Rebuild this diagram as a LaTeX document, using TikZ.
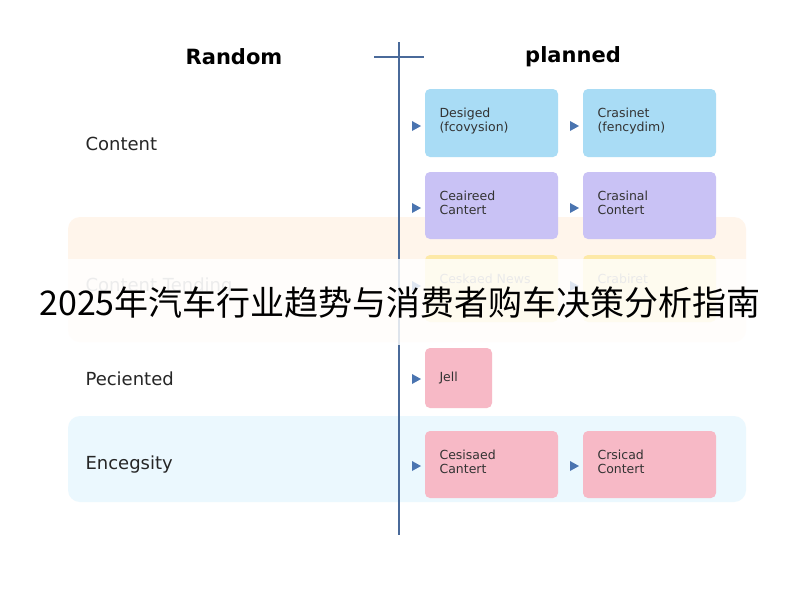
\documentclass[tikz,border=0pt]{standalone}
\usepackage{fontspec}
\setmainfont{DejaVu Sans}
\newfontfamily\cjk{Noto Sans CJK SC}
\begin{document}
\begin{tikzpicture}[x=1pt,y=-1pt,
  box/.style={rounded corners=5pt,draw=none},
  btxt/.style={anchor=west,font=\fontsize{12.5}{14}\selectfont,align=left,text=black!80},
  lab/.style={anchor=west,font=\fontsize{18}{20}\selectfont,text=black!85},
  tri/.style={fill={rgb,255:red,74;green,116;blue,176},draw=none}]
\useasboundingbox (0,0) rectangle (800,600);
\fill[white] (0,0) rectangle (800,600);
\fill[orange!8,rounded corners=12pt] (68,217) rectangle (746,342);
\fill[cyan!8,rounded corners=12pt] (68,416) rectangle (746,502);
\node[font=\bfseries\fontsize{21}{24}\selectfont] (hr) at (234,57) {Random};
\node[font=\bfseries\fontsize{21}{24}\selectfont] (hp) at (573,57) {planned};
\coordinate (vt) at (399,42); \coordinate (vb) at (399,535);
\coordinate (hl) at (374,57); \coordinate (hrr) at (424,57);
\draw[color={rgb,255:red,74;green,106;blue,154},line width=1.5pt] (vt)--(vb);
\draw[color={rgb,255:red,74;green,106;blue,154},line width=1.2pt] (hl)--(hrr);
\node[lab] (l1) at (82,144) {Content};
\node[lab,text=black!40] (l2) at (82,287) {Content Tending};
\node[lab] (l3) at (82,379) {Peciented};
\node[lab] (l4) at (82,465) {Encegsity};
\definecolor{cb}{HTML}{A9DCF5}\definecolor{cp}{HTML}{C9C2F5}
\definecolor{cy}{HTML}{FDE9A8}\definecolor{ck}{HTML}{F7B9C6}
\fill[box,cb] (425,89) rectangle (558,157); \fill[box,cb] (583,89) rectangle (716,157);
\fill[box,cp] (425,172) rectangle (558,239); \fill[box,cp] (583,172) rectangle (716,239);
\fill[box,cy] (425,255) rectangle (558,322); \fill[box,cy] (583,255) rectangle (716,322);
\fill[box,ck] (425,348) rectangle (492,408);
\fill[box,ck] (425,431) rectangle (558,498); \fill[box,ck] (583,431) rectangle (716,498);
\node[btxt] (b11) at (436,121) {Desiged\\(fcovysion)};
\node[btxt] (b12) at (594,121) {Crasinet\\(fencydim)};
\node[btxt] (b21) at (436,203) {Ceaireed\\Cantert};
\node[btxt] (b22) at (594,203) {Crasinal\\Contert};
\node[btxt,text=black!45] (b31) at (436,279) {Ceskaed News};
\node[btxt,text=black!45] (b32) at (594,279) {Crabiret};
\node[btxt] (b41) at (436,378) {Jell};
\node[btxt] (b51) at (436,462) {Cesisaed\\Cantert};
\node[btxt] (b52) at (594,462) {Crsicad\\Contert};
\foreach \y in {126,208,286,379,466}{\fill[tri] (412,\y-5)--(421,\y)--(412,\y+5)--cycle;}
\foreach \y in {126,208,286,466}{\fill[tri] (570,\y-5)--(579,\y)--(570,\y+5)--cycle;}
\fill[white,opacity=0.82] (0,259) rectangle (800,345);
\node[font=\cjk\fontsize{34}{37}\selectfont] (title) at (400,303) {2025年汽车行业趋势与消费者购车决策分析指南};
\end{tikzpicture}
\end{document}
